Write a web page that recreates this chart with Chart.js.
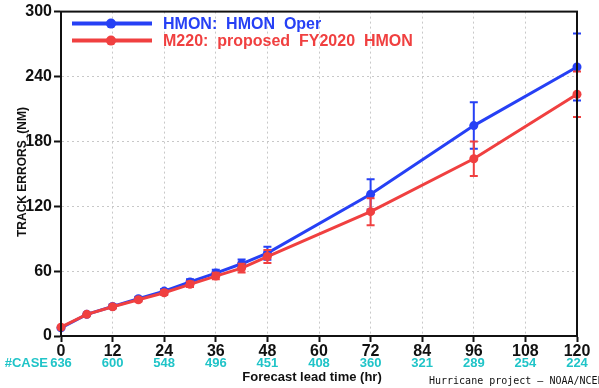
<!DOCTYPE html>
<html>
<head>
<meta charset="utf-8">
<script src="https://cdn.jsdelivr.net/npm/chart.js@4/dist/chart.umd.min.js"></script>
<style>
  html, body { margin: 0; padding: 0; background: #fff; }
  #wrap { width: 599px; height: 388px; position: relative; }
</style>
</head>
<body>
<div id="wrap"><canvas id="c" width="599" height="388"></canvas></div>
<script>
// Forecast lead times (hr) at which track errors are verified
const leadHours = [0, 6, 12, 18, 24, 30, 36, 42, 48, 72, 96, 120];
// Mean track errors (NM)
const hmonErr = [7.5, 20, 27.3, 34.5, 41.5, 50, 58.2, 66.8, 76.6, 131, 194.6, 248.8];
const m220Err = [8.2, 20, 27, 33.5, 40, 47.8, 55.4, 62.8, 73.5, 115, 163.9, 223.6];
// Half-width of the confidence interval (NM)
const hmonCI = [1, 1, 1.5, 1.5, 2, 2.5, 3, 4, 6, 14, 21.5, 31];
const m220CI = [1, 1, 1.5, 1.5, 2, 2.5, 3, 4, 6, 12.5, 16, 21];
// Axis ticks and sample sizes
const xTicks = [0, 12, 24, 36, 48, 60, 72, 84, 96, 108, 120];
const caseCounts = [636, 600, 548, 496, 451, 408, 360, 321, 289, 254, 224];
const yTicks = [0, 60, 120, 180, 240, 300];
const seriesLabels = ['HMON:  HMON  Oper', 'M220:  proposed  FY2020  HMON'];

const BLUE = 'rgb(38,64,245)';
const RED = 'rgb(240,64,64)';
const CYAN = 'rgb(32,196,200)';
const FONT = '"Liberation Sans", Arial, sans-serif';

function pts(vals) { return leadHours.map((h, i) => ({ x: h, y: vals[i] })); }

// Vertical error bars drawn right after each line so layering follows dataset order
const errorBars = {
  id: 'errorBars',
  afterDatasetDraw(chart, args) {
    const ds = chart.data.datasets[args.index];
    if (!ds.ci) return;
    const { ctx, scales: { x, y } } = chart;
    ctx.save();
    ctx.strokeStyle = ds.borderColor;
    ctx.lineWidth = 2;
    leadHours.forEach((h, i) => {
      const px = x.getPixelForValue(h);
      const v = ds.data[i].y;
      const top = y.getPixelForValue(v + ds.ci[i]);
      const bot = y.getPixelForValue(v - ds.ci[i]);
      if (bot - top < 3) return;
      ctx.beginPath();
      ctx.moveTo(px, top); ctx.lineTo(px, bot);
      ctx.moveTo(px - 4, top); ctx.lineTo(px + 4, top);
      ctx.moveTo(px - 4, bot); ctx.lineTo(px + 4, bot);
      ctx.stroke();
    });
    ctx.restore();
  }
};

// Frame, in-plot legend, case counts row and titles
const decorations = {
  id: 'decorations',
  afterDraw(chart) {
    const { ctx, chartArea: a, scales: { x } } = chart;
    ctx.save();
    // frame
    ctx.strokeStyle = '#111';
    ctx.lineWidth = 2;
    ctx.strokeRect(a.left, a.top, a.right - a.left, a.bottom - a.top);

    // legend inside the plot
    chart.data.datasets.forEach((ds, i) => {
      const yy = a.top + 12 + i * 17;
      ctx.strokeStyle = ds.borderColor;
      ctx.lineWidth = 4;
      ctx.beginPath(); ctx.moveTo(a.left + 11, yy); ctx.lineTo(a.left + 91, yy); ctx.stroke();
      ctx.fillStyle = ds.borderColor;
      ctx.beginPath(); ctx.arc(a.left + 50, yy, 5, 0, Math.PI * 2); ctx.fill();
      ctx.font = 'bold 16px ' + FONT;
      ctx.textBaseline = 'middle';
      ctx.textAlign = 'left';
      ctx.fillText(ds.label, a.left + 102, yy + 1);
    });

    // number of cases under each tick
    ctx.fillStyle = CYAN;
    ctx.font = 'bold 13px ' + FONT;
    ctx.textAlign = 'center';
    ctx.textBaseline = 'middle';
    xTicks.forEach((h, i) => {
      ctx.fillText(String(caseCounts[i]), x.getPixelForValue(h), 363);
    });
    ctx.textAlign = 'right';
    ctx.fillText('#CASE', x.getPixelForValue(0) - 13, 363);

    // x-axis title
    ctx.fillStyle = '#111';
    ctx.textAlign = 'center';
    ctx.font = 'bold 13px ' + FONT;
    ctx.fillText('Forecast lead time (hr)', 312, 377);

    // credit line
    ctx.textAlign = 'left';
    ctx.font = '10px "DejaVu Sans Mono", monospace';
    ctx.fillText('Hurricane project \u2014 NOAA/NCEP/EMC', 429, 381);

    // y-axis title
    ctx.save();
    ctx.translate(23, 172);
    ctx.rotate(-Math.PI / 2);
    ctx.textAlign = 'center';
    ctx.font = 'bold 12px ' + FONT;
    ctx.fillStyle = '#111';
    ctx.fillText('TRACK ERRORS_(NM)', 0, 0);
    ctx.restore();
    ctx.restore();
  }
};

new Chart(document.getElementById('c'), {
  type: 'line',
  data: {
    datasets: [
      { label: seriesLabels[0], data: pts(hmonErr), ci: hmonCI, borderColor: BLUE, backgroundColor: BLUE,
        borderWidth: 3, pointRadius: 4.5, pointBackgroundColor: BLUE, pointBorderWidth: 0, order: 1, clip: false },
      { label: seriesLabels[1], data: pts(m220Err), ci: m220CI, borderColor: RED, backgroundColor: RED,
        borderWidth: 3, pointRadius: 4.5, pointBackgroundColor: RED, pointBorderWidth: 0, order: 0, clip: false }
    ]
  },
  options: {
    responsive: false,
    animation: false,
    events: [],
    layout: { padding: { left: 0, right: 22, top: 8, bottom: 0 } },
    plugins: { legend: { display: false }, tooltip: { enabled: false } },
    scales: {
      x: {
        type: 'linear', min: 0, max: 120,
        afterBuildTicks(s) { s.ticks = xTicks.map(v => ({ value: v })); },
        afterFit(s) { s.height = 52; },
        grid: { color: '#c8c8c8', tickColor: '#111', tickWidth: 2, tickLength: 6, tickBorderDash: [] },
        border: { color: '#111', width: 2, dash: [2, 3] },
        ticks: { color: '#111', font: { family: FONT, size: 16, weight: 'bold' }, padding: 0, maxRotation: 0 }
      },
      y: {
        min: 0, max: 300,
        afterBuildTicks(s) { s.ticks = yTicks.map(v => ({ value: v })); },
        afterFit(s) { s.width = 61; },
        grid: { color: '#c8c8c8', tickColor: '#111', tickWidth: 2, tickLength: 7, tickBorderDash: [] },
        border: { color: '#111', width: 2, dash: [2, 3] },
        ticks: { color: '#111', font: { family: FONT, size: 16, weight: 'bold' }, padding: 2 }
      }
    }
  },
  plugins: [errorBars, decorations]
});
</script>
</body>
</html>
